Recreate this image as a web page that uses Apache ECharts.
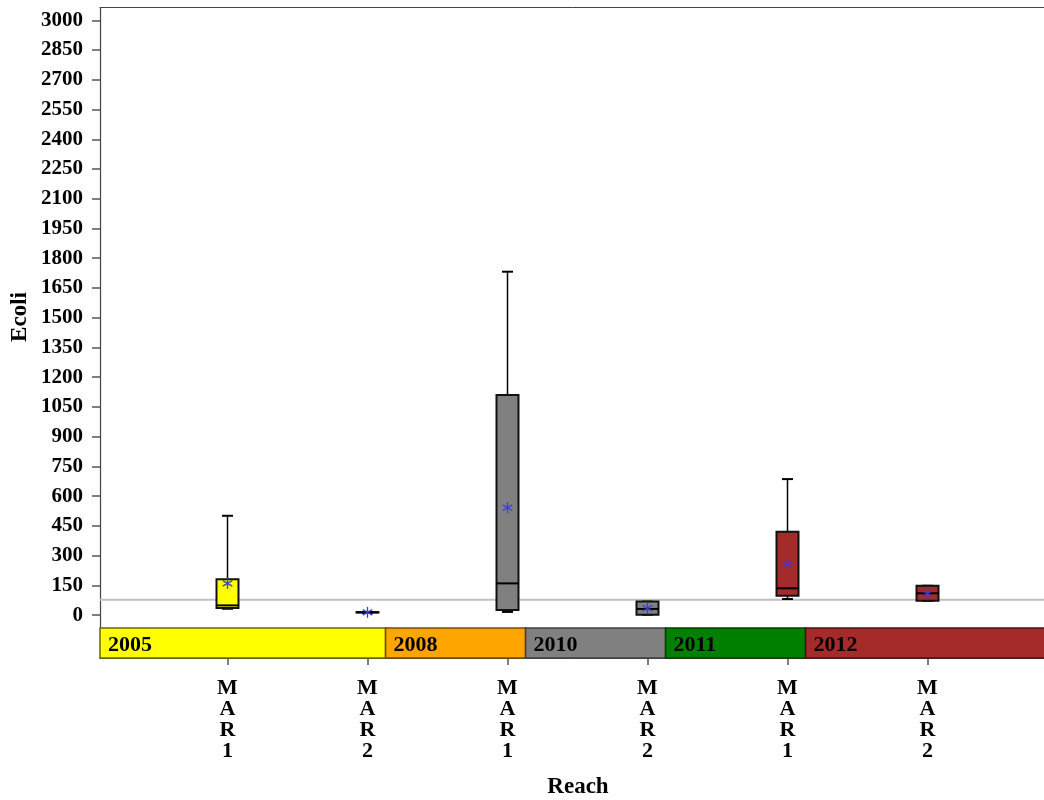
<!DOCTYPE html>
<html>
<head>
<meta charset="utf-8">
<script src="https://cdn.jsdelivr.net/npm/echarts@6/dist/echarts.min.js"></script>
<style>html,body{margin:0;padding:0;background:#fff;}#c{width:1044px;height:800px;}</style>
</head>
<body>
<div id="c"></div>
<script>
// ---- data ----
const reaches = ['MAR1', 'MAR2', 'MAR1', 'MAR2', 'MAR1', 'MAR2'];
const mins    = [32, 12, 16, 2, 81, 72];
const q1s     = [36, 13, 26, 2, 98, 72];
const medians = [49, 14, 160, 31, 135, 110];
const q3s     = [181, 15, 1110, 68, 421, 148];
const maxs    = [501, 16, 1732, 68, 686, 148];
const means   = [160, 14, 542, 35, 258, 108];
const boxColors = ['#ffff00', '#ffff00', '#808080', '#808080', '#a52a2a', '#a52a2a'];

const years      = ['2005', '2008', '2010', '2011', '2012'];
const yearStarts = [-1, 1.129, 2.129, 3.129, 4.129];
const yearEnds   = [1.129, 2.129, 3.129, 4.129, 7];
const yearColors = ['#ffff00', '#ffa500', '#808080', '#008000', '#a52a2a'];
const yearBorders = ['#6b6b00', '#7a4a00', '#404040', '#004000', '#501010'];

const yTicks = [];
for (let v = 0; v <= 3000; v += 150) yTicks.push(v);
const refValue = 77;
const bandTop = -65;
const yMin = -216.4, yMax = 3064.6;

const FONT = '"Liberation Serif", "Times New Roman", serif';

const chart = echarts.init(document.getElementById('c'));

const boxData = reaches.map((r, i) => [i, mins[i], q1s[i], medians[i], q3s[i], maxs[i]]);
const meanData = means.map((m, i) => [i, m]);
const bandData = years.map((y, i) => [yearStarts[i], yearEnds[i], i]);

function renderBox(params, api) {
  const i = params.dataIndex;
  const x = api.value(0);
  const pMin = api.coord([x, api.value(1)]);
  const pQ1 = api.coord([x, api.value(2)]);
  const pMed = api.coord([x, api.value(3)]);
  const pQ3 = api.coord([x, api.value(4)]);
  const pMax = api.coord([x, api.value(5)]);
  const cx = pMin[0], hw = 11, cw = 5.5;
  const ln = (x1, y1, x2, y2, w) => ({type: 'line', shape: {x1, y1, x2, y2}, style: {stroke: '#000', lineWidth: w}});
  const h = Math.max(pQ1[1] - pQ3[1], 0.01);
  return {type: 'group', children: [
    ln(cx, pQ3[1], cx, pMax[1], 1.5),
    ln(cx, pQ1[1], cx, pMin[1], 1.5),
    ln(cx - cw, pMax[1], cx + cw, pMax[1], 2),
    ln(cx - cw, pMin[1], cx + cw, pMin[1], 2),
    {type: 'rect', shape: {x: cx - hw, y: pQ3[1], width: 2 * hw, height: h},
     style: {fill: boxColors[i], stroke: '#111', lineWidth: 2}},
    ln(cx - hw, pMed[1], cx + hw, pMed[1], 2)
  ]};
}

function renderMean(params, api) {
  const p = api.coord([api.value(0), api.value(1)]);
  const r = 5.5, d = 4.8, e = 2.8;
  const st = {stroke: '#3c3cd8', lineWidth: 1.3};
  return {type: 'group', children: [
    {type: 'line', shape: {x1: p[0], y1: p[1] - r, x2: p[0], y2: p[1] + r}, style: st},
    {type: 'line', shape: {x1: p[0] - d, y1: p[1] - e, x2: p[0] + d, y2: p[1] + e}, style: st},
    {type: 'line', shape: {x1: p[0] - d, y1: p[1] + e, x2: p[0] + d, y2: p[1] - e}, style: st}
  ]};
}

function renderBand(params, api) {
  const cs = params.coordSys;
  const a = api.coord([api.value(0), bandTop]);
  const b = api.coord([api.value(1), yMin]);
  const i = api.value(2);
  const x1 = Math.max(a[0], cs.x), x2 = Math.min(b[0], cs.x + cs.width + 2);
  return {type: 'group', children: [
    {type: 'rect', shape: {x: x1, y: a[1], width: x2 - x1, height: b[1] - a[1]},
     style: {fill: yearColors[i], stroke: yearBorders[i], lineWidth: 1.5}},
    {type: 'text', x: x1 + 8, y: (a[1] + b[1]) / 2 + 2,
     style: {text: years[i], fill: '#000', font: 'bold 22px ' + FONT, verticalAlign: 'middle', align: 'left'}}
  ]};
}

function renderRef(params, api) {
  const cs = params.coordSys;
  const p = api.coord([0, refValue]);
  return {type: 'line', shape: {x1: cs.x, y1: p[1], x2: cs.x + cs.width, y2: p[1]},
          style: {stroke: '#c0c0c0', lineWidth: 2}};
}

const xMin = -0.9107, xMax = -0.9107 + 946 / 140;

chart.setOption({
  animation: false,
  backgroundColor: '#fff',
  grid: {left: 100, right: -2, top: 7.5, bottom: 142, show: false, containLabel: false, outerBoundsMode: 'none'},
  graphic: [{
    type: 'text', x: 20, y: 317, rotation: Math.PI / 2,
    style: {text: 'Ecoli', font: 'bold 23px ' + FONT, fill: '#000', align: 'center', verticalAlign: 'middle'}
  }],
  xAxis: [{
    type: 'value', min: xMin, max: xMax,
    splitLine: {show: false},
    axisLine: {show: true, onZero: false, lineStyle: {color: '#444', width: 1}},
    axisTick: {show: true, customValues: reaches.map((r, i) => i), length: 7, lineStyle: {color: '#555', width: 1.5}},
    axisLabel: {
      show: true, customValues: reaches.map((r, i) => i), margin: 20,
      formatter: v => reaches[Math.round(v)].split('').join('\n'),
      fontFamily: FONT, fontWeight: 'bold', fontSize: 22, lineHeight: 21, color: '#000'
    },
    name: 'Reach', nameLocation: 'middle', nameGap: 118,
    nameTextStyle: {fontFamily: FONT, fontWeight: 'bold', fontSize: 23, color: '#000', padding: [0, 0, 0, 10]}
  }, {
    type: 'value', position: 'top', min: xMin, max: xMax,
    splitLine: {show: false}, axisTick: {show: false}, axisLabel: {show: false},
    axisLine: {show: true, onZero: false, lineStyle: {color: '#444', width: 1}}
  }],
  yAxis: {
    type: 'value', min: yMin, max: yMax,
    splitLine: {show: false},
    axisLine: {show: true, onZero: false, lineStyle: {color: '#444', width: 1.2}},
    axisTick: {show: true, customValues: yTicks, length: 8, lineStyle: {color: '#555', width: 1.5}},
    axisLabel: {show: true, customValues: yTicks, margin: 17, formatter: v => String(v),
      fontFamily: FONT, fontWeight: 'bold', fontSize: 21, color: '#000'}
  },
  series: [
    {type: 'custom', name: 'band', renderItem: renderBand, data: bandData, z: 1, clip: false, silent: true},
    {type: 'custom', name: 'ref', renderItem: renderRef, data: [[0, refValue]], z: 2, silent: true},
    {type: 'custom', name: 'box', renderItem: renderBox, data: boxData, z: 3,
     encode: {x: 0, y: [1, 2, 3, 4, 5]}},
    {type: 'custom', name: 'mean', renderItem: renderMean, data: meanData, z: 4, encode: {x: 0, y: 1}}
  ]
});
</script>
</body>
</html>
